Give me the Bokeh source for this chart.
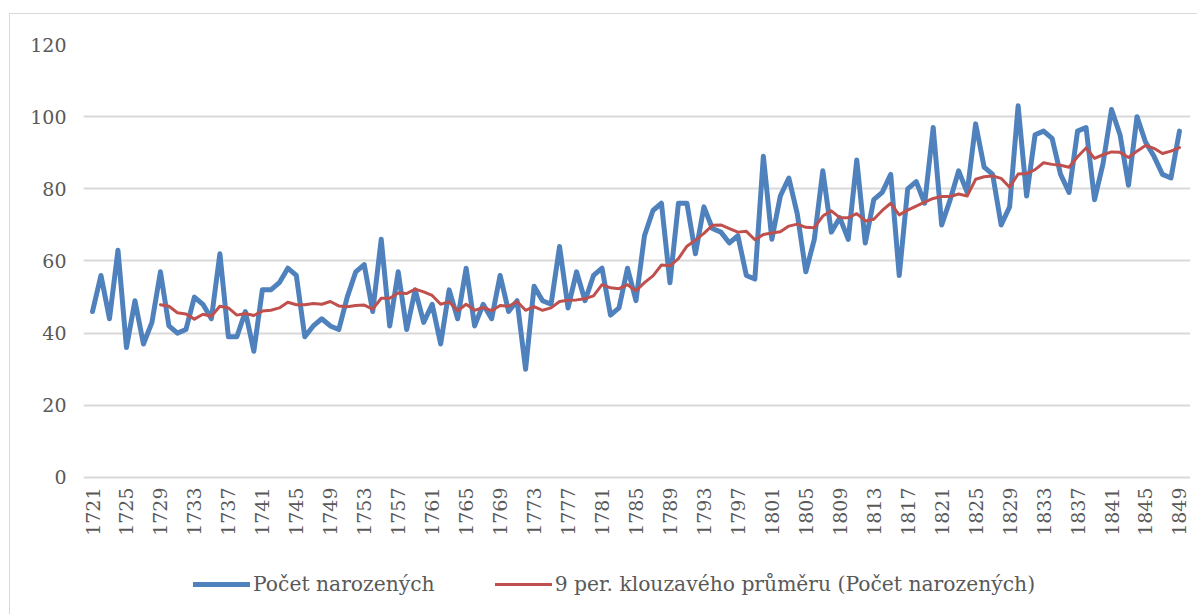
import numpy as np
from bokeh.plotting import figure
from bokeh.models import Range1d, FixedTicker, Legend, LegendItem, ColumnDataSource
from bokeh.core.properties import value
from bokeh.embed import file_html
from bokeh.resources import INLINE

years = list(range(1721, 1850))
births = [46, 56, 44, 63, 36, 49, 37, 43, 57, 42,
          40, 41, 50, 48, 44, 62, 39, 39, 46, 35,
          52, 52, 54, 58, 56, 39, 42, 44, 42, 41,
          50, 57, 59, 46, 66, 42, 57, 41, 52, 43,
          48, 37, 52, 44, 58, 42, 48, 44, 56, 46,
          49, 30, 53, 49, 48, 64, 47, 57, 49, 56,
          58, 45, 47, 58, 49, 67, 74, 76, 54, 76,
          76, 62, 75, 69, 68, 65, 67, 56, 55, 89,
          66, 78, 83, 73, 57, 66, 85, 68, 72, 66,
          88, 65, 77, 79, 84, 56, 80, 82, 76, 97,
          70, 77, 85, 79, 98, 86, 84, 70, 75, 103,
          78, 95, 96, 94, 84, 79, 96, 97, 77, 87,
          102, 95, 81, 100, 93, 89, 84, 83, 96]
window = 9
ma_years = years[window - 1:]
ma_values = list(np.convolve(births, np.ones(window) / window, mode="valid"))
x_ticks = list(range(1721, 1850, 4))
x_tick_labels = [str(t) for t in x_ticks]
y_ticks = [0, 20, 40, 60, 80, 100, 120]

FONT = "DejaVu Serif"
TXT = "#595959"

# frame spans down to the legend row; value 0 stays on the lowest gridline
p = figure(width=1188, height=601, x_range=Range1d(1719.94, 1850.3), y_range=Range1d(-34.09, 120),
           output_backend="svg", toolbar_location=None,
           min_border_left=73, min_border_right=8, min_border_top=30, min_border_bottom=15)
p.styles = {"border-left": "1px solid #d9d9d9", "border-top": "1px solid #d9d9d9",
            "margin-left": "9px", "margin-top": "13px"}
p.outline_line_color = None
p.xgrid.grid_line_color = None
p.ygrid.grid_line_color = "#d9d9d9"
p.ygrid.grid_line_width = 2
p.xaxis.visible = False

p.yaxis.ticker = FixedTicker(ticks=y_ticks)
ax = p.yaxis
ax.axis_line_color = None
ax.major_tick_line_color = None
ax.minor_tick_line_color = None
ax.major_tick_out = 0
ax.major_tick_in = 0
ax.major_label_text_font = FONT
ax.major_label_text_font_size = "19px"
ax.major_label_text_color = TXT
ax.major_label_standoff = 17

# category tick labels of the x axis, placed through the data scale
lab_src = ColumnDataSource(dict(x=x_ticks, y=[-2.77] * len(x_ticks), t=x_tick_labels))
p.text("x", "y", text="t", source=lab_src, angle=np.pi / 2, text_align="right",
       text_baseline="middle", text_font=value(FONT), text_font_size="19px", text_color=TXT)

src = ColumnDataSource(dict(x=years, y=births))
src_ma = ColumnDataSource(dict(x=ma_years, y=ma_values))
r1 = p.line("x", "y", source=src, line_color="#4f81bd", line_width=5,
            line_join="round", line_cap="round")
r2 = p.line("x", "y", source=src_ma, line_color="#c0504d", line_width=3,
            line_join="round", line_cap="round")

legend = Legend(items=[LegendItem(label="Počet narozených", renderers=[r1]),
                       LegendItem(label="9 per. klouzavého průměru (Počet narozených)", renderers=[r2])],
                orientation="horizontal", location=(110, 4),
                label_text_font=FONT, label_text_font_size="20.3px", label_text_color=TXT,
                glyph_width=57, glyph_height=24, label_standoff=3, spacing=60,
                padding=0, margin=0, border_line_color=None, background_fill_alpha=0)
p.add_layout(legend, "center")

open("out.html", "w").write(file_html(p, INLINE))
